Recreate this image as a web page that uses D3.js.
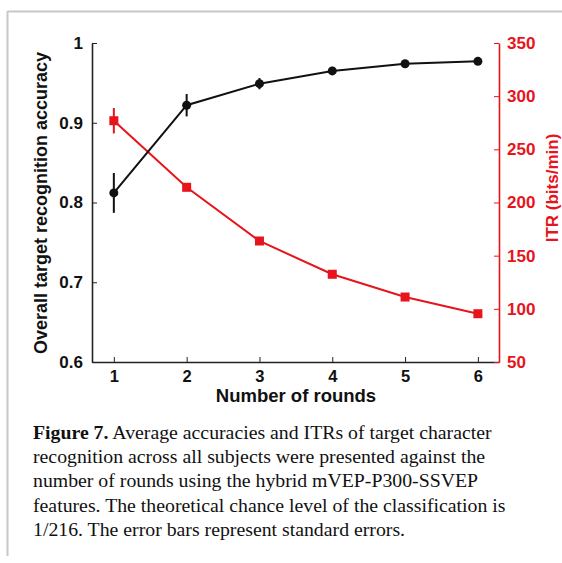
<!DOCTYPE html>
<html>
<head>
<meta charset="utf-8">
<script src="https://cdn.jsdelivr.net/npm/d3@7"></script>
<style>
  body { margin: 0; background: #fff; }
  svg text { font-family: "Liberation Sans", Arial, sans-serif; }
  .caption { font-family: "Liberation Serif", "Times New Roman", serif; }
</style>
</head>
<body>
<div id="graph"></div>
<script>
//data
const rounds = [1, 2, 3, 4, 5, 6];
const accuracy = [0.812, 0.922, 0.949, 0.965, 0.974, 0.977];
const accuracyErr = [0.025, 0.014, 0.007, 0.005, 0.004, 0.002];
const itr = [276.9, 214.3, 163.8, 132.5, 111.1, 95.4];
const itrErr = [12, 3, 1.5, 1.2, 1, 1];
const accTicks = [0.6, 0.7, 0.8, 0.9, 1];
const itrTicks = [50, 100, 150, 200, 250, 300, 350];
const captionLines = [
  "Average accuracies and ITRs of target character",
  "recognition across all subjects were presented against the",
  "number of rounds using the hybrid mVEP-P300-SSVEP",
  "features. The theoretical chance level of the classification is",
  "1/216. The error bars represent standard errors."
];

const width = 562, height = 563;
const red = "#e8141b";

const svg = d3.select("#graph").append("svg")
  .attr("width", width)
  .attr("height", height);

//page frame lines
svg.append("line").attr("x1", 7.5).attr("x2", width).attr("y1", 11.5).attr("y2", 11.5)
  .attr("stroke", "#c8c8c8").attr("stroke-width", 2);
svg.append("line").attr("x1", 7.5).attr("x2", 7.5).attr("y1", 11).attr("y2", 556)
  .attr("stroke", "#c8c8c8").attr("stroke-width", 2);

//scales
const x = d3.scaleLinear().domain([0.7, 6.29]).range([92, 499]);
const yAcc = d3.scaleLinear().domain([0.6, 1]).range([362, 43]);
const yItr = d3.scaleLinear().domain([50, 350]).range([362, 43]);

//axes (ticks point inward)
const xAxis = svg.append("g")
  .attr("transform", "translate(0,362)")
  .call(d3.axisBottom(x).tickValues(rounds).tickFormat(d3.format("d")).tickSize(-5).tickSizeOuter(0));
xAxis.selectAll("text").attr("font-size", 16.5).attr("font-weight", "bold").attr("fill", "#111")
  .attr("y", 8).attr("dy", "0.71em");

const leftAxis = svg.append("g")
  .attr("transform", "translate(92,0)")
  .call(d3.axisLeft(yAcc).tickValues(accTicks).tickFormat(function(d){ return d === 1 ? "1" : d3.format(".1f")(d); }).tickSize(-5).tickSizeOuter(0));
leftAxis.selectAll("text").attr("font-size", 17).attr("font-weight", "bold").attr("fill", "#111").attr("x", -9);

const rightAxis = svg.append("g")
  .attr("transform", "translate(499,0)")
  .call(d3.axisRight(yItr).tickValues(itrTicks).tickSize(-5).tickSizeOuter(0));
rightAxis.selectAll("text").attr("font-size", 17).attr("font-weight", "bold").attr("fill", red).attr("x", 8);
rightAxis.selectAll("line, path").attr("stroke", red);

[xAxis, leftAxis, rightAxis].forEach(function(a){ a.select(".domain").attr("stroke-width", 1.6); });
xAxis.selectAll("line, path").attr("stroke", "#222");
leftAxis.selectAll("line, path").attr("stroke", "#222");

//axis titles
svg.append("text")
  .attr("x", 296).attr("y", 402)
  .attr("text-anchor", "middle")
  .attr("font-size", 18.5).attr("font-weight", "bold").attr("fill", "#111")
  .text("Number of rounds");

svg.append("text")
  .attr("transform", "translate(47,203) rotate(-90)")
  .attr("text-anchor", "middle")
  .attr("font-size", 18).attr("font-weight", "bold").attr("fill", "#111")
  .text("Overall target recognition accuracy");

svg.append("text")
  .attr("transform", "translate(558,188) rotate(-90)")
  .attr("text-anchor", "middle")
  .attr("font-size", 17).attr("font-weight", "bold").attr("fill", red)
  .text("ITR (bits/min)");

//ITR series
const itrData = rounds.map(function(r, i){ return { r: r, v: itr[i], e: itrErr[i] }; });
svg.append("path")
  .datum(itrData)
  .attr("fill", "none").attr("stroke", red).attr("stroke-width", 2)
  .attr("d", d3.line().x(function(d){ return x(d.r); }).y(function(d){ return yItr(d.v); }));
svg.append("g").selectAll("line")
  .data(itrData).enter().append("line")
  .attr("x1", function(d){ return x(d.r); }).attr("x2", function(d){ return x(d.r); })
  .attr("y1", function(d){ return yItr(d.v - d.e); }).attr("y2", function(d){ return yItr(d.v + d.e); })
  .attr("stroke", red).attr("stroke-width", 2);
svg.append("g").selectAll("rect")
  .data(itrData).enter().append("rect")
  .attr("x", function(d){ return x(d.r) - 4.5; }).attr("y", function(d){ return yItr(d.v) - 4.5; })
  .attr("width", 9).attr("height", 9)
  .attr("fill", red);

//accuracy series
const accData = rounds.map(function(r, i){ return { r: r, v: accuracy[i], e: accuracyErr[i] }; });
svg.append("path")
  .datum(accData)
  .attr("fill", "none").attr("stroke", "#111").attr("stroke-width", 2)
  .attr("d", d3.line().x(function(d){ return x(d.r); }).y(function(d){ return yAcc(d.v); }));
svg.append("g").selectAll("line")
  .data(accData).enter().append("line")
  .attr("x1", function(d){ return x(d.r); }).attr("x2", function(d){ return x(d.r); })
  .attr("y1", function(d){ return yAcc(d.v - d.e); }).attr("y2", function(d){ return yAcc(d.v + d.e); })
  .attr("stroke", "#111").attr("stroke-width", 2);
svg.append("g").selectAll("circle")
  .data(accData).enter().append("circle")
  .attr("cx", function(d){ return x(d.r); }).attr("cy", function(d){ return yAcc(d.v); })
  .attr("r", 4.5)
  .attr("fill", "#111");

//caption
const caption = svg.append("g").attr("class", "caption");
captionLines.forEach(function(line, i){
  const t = caption.append("text")
    .attr("class", "caption")
    .attr("x", 33).attr("y", 439 + i * 24.2)
    .attr("font-size", 19.8).attr("fill", "#111");
  if (i === 0) {
    t.append("tspan").attr("font-weight", "bold").text("Figure 7.");
    t.append("tspan").text(" " + line);
  } else {
    t.text(line);
  }
});
</script>
</body>
</html>
